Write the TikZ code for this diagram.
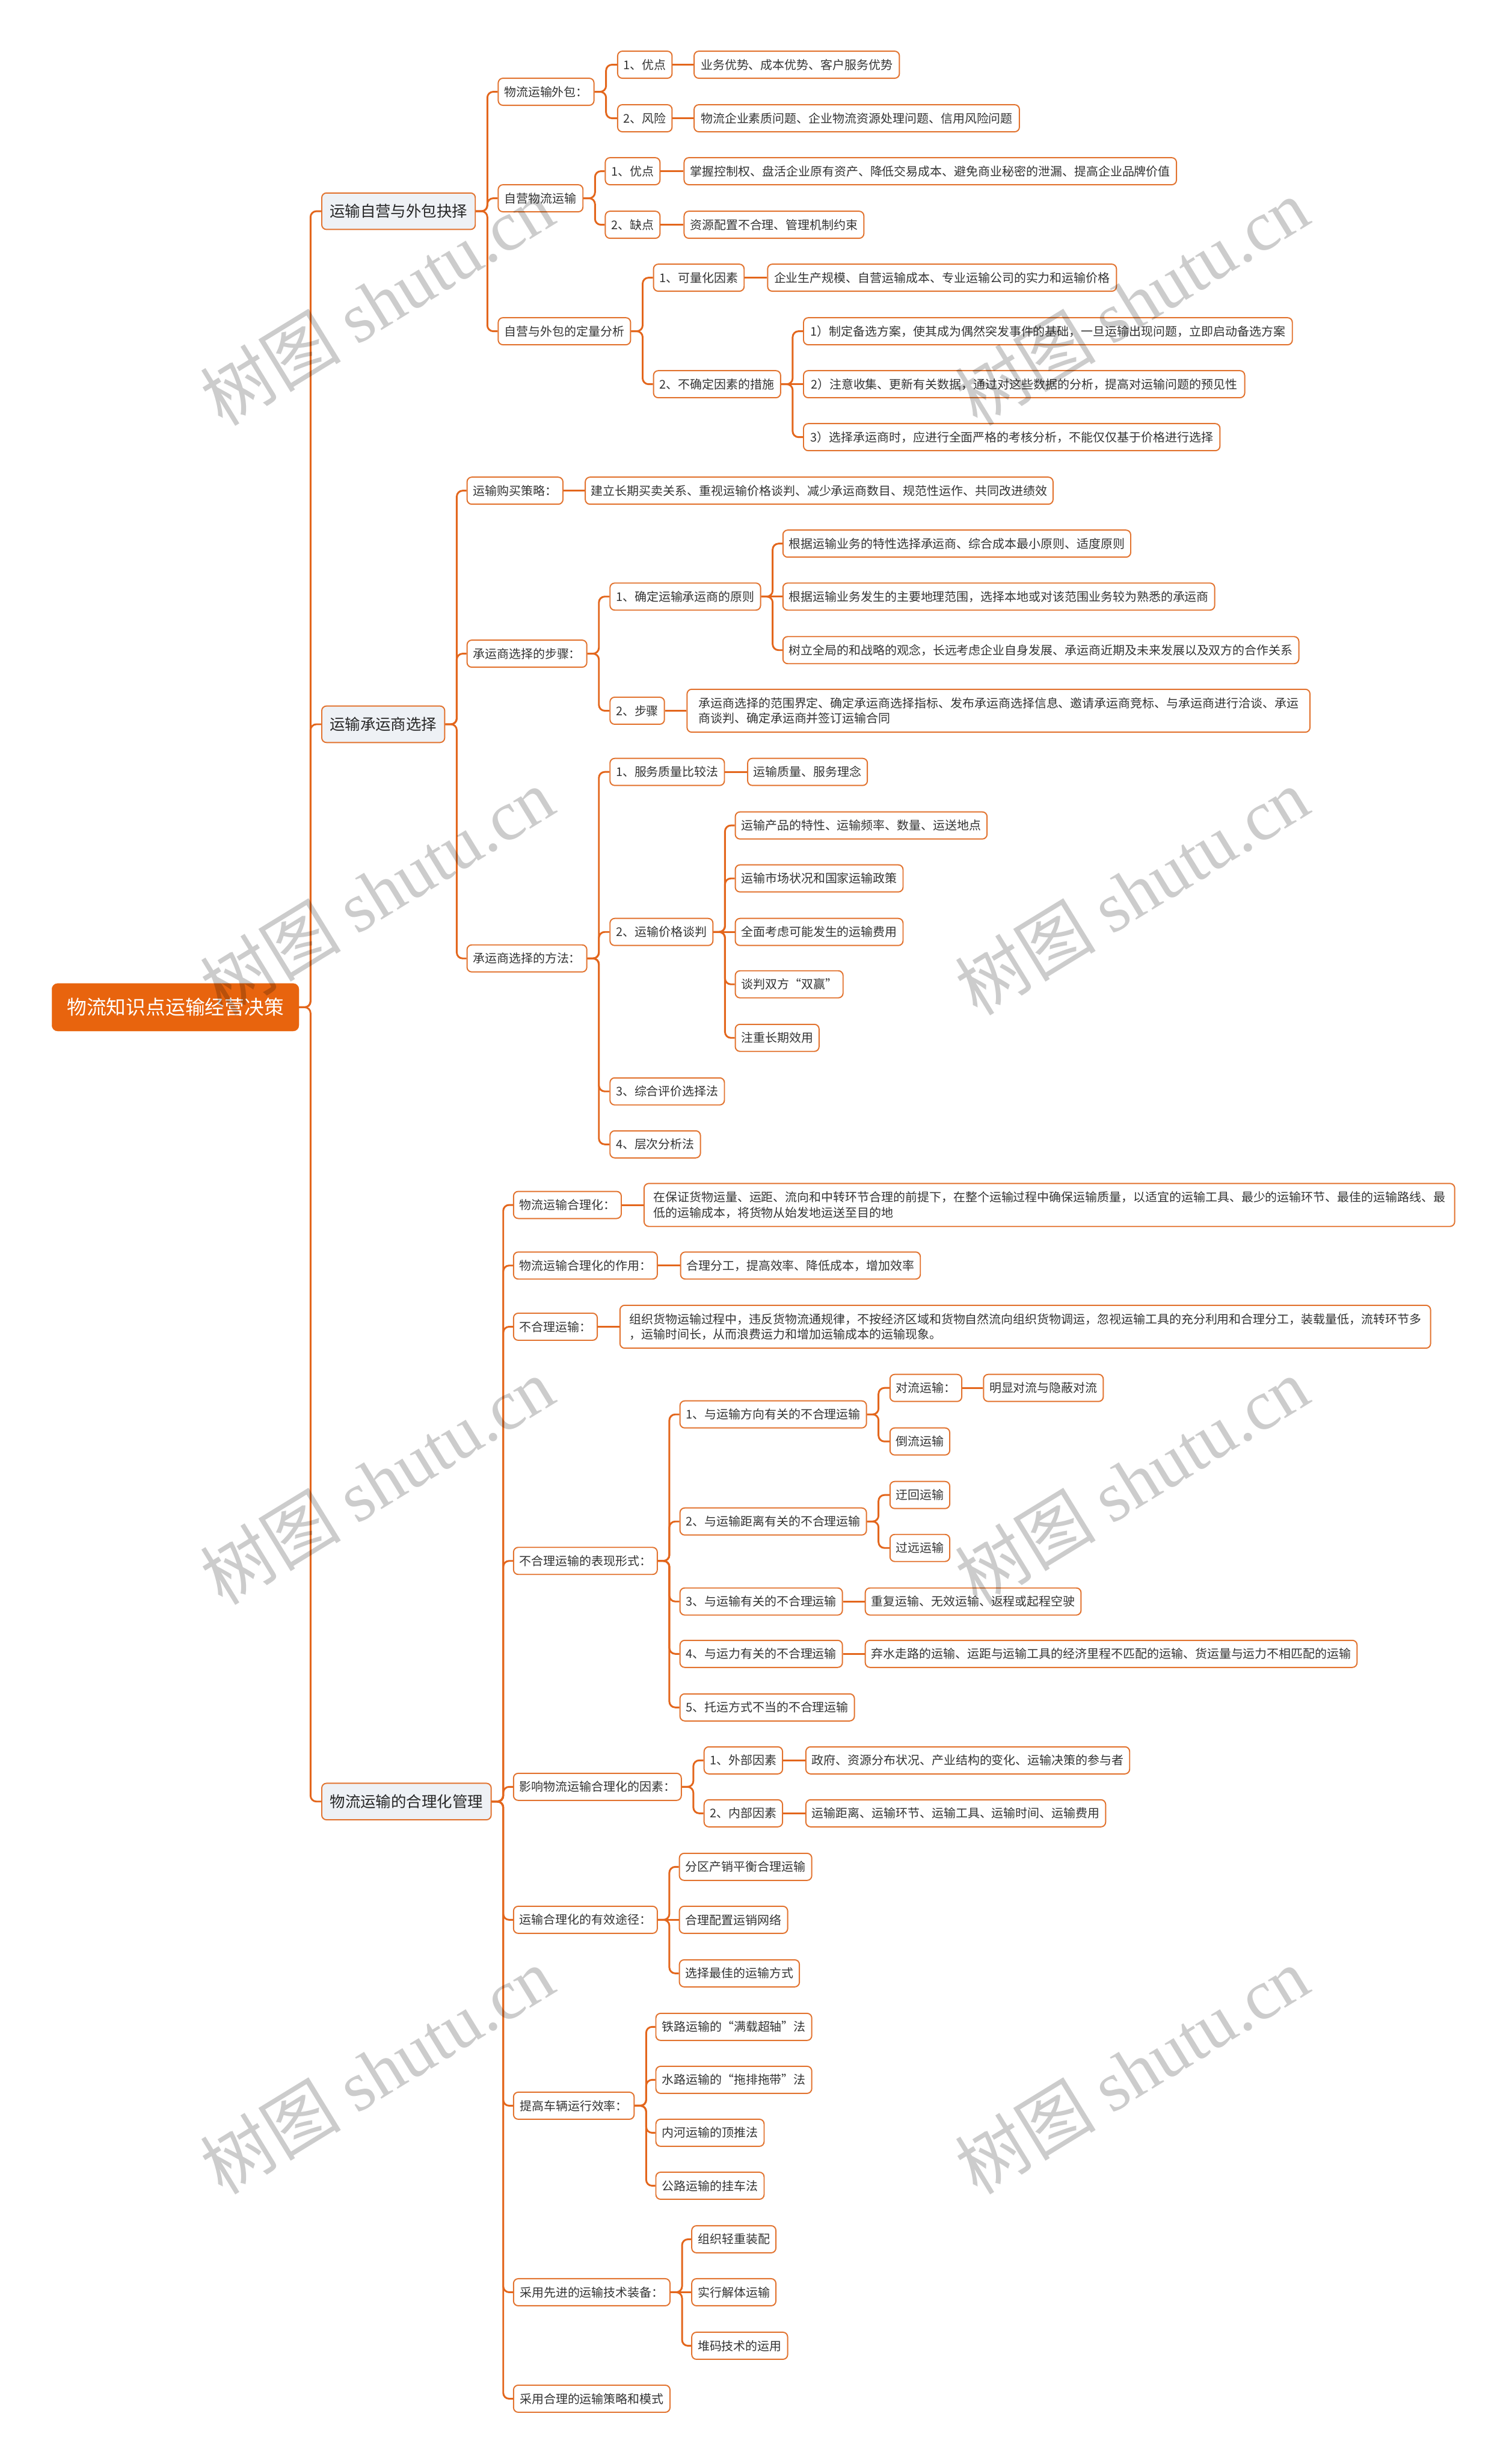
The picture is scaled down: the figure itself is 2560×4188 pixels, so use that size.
\documentclass[tikz,border=0pt]{standalone}
\usepackage{fontspec}
\setmainfont{Noto Sans CJK SC}
\newfontfamily\wmlatin{Liberation Serif}
\definecolor{org}{HTML}{E3661C}
\definecolor{rootc}{HTML}{E8640E}
\definecolor{bord}{HTML}{E2732F}
\definecolor{lonefill}{HTML}{EEF1F5}
\definecolor{txt}{HTML}{333333}
\tikzset{
 base/.style={draw=bord, line width=2pt, rounded corners=8pt, fill=white, text=txt, anchor=west,
   inner xsep=10pt, inner ysep=3pt, minimum height=46pt, font=\fontsize{20.4}{26}\selectfont},
 leaf/.style={base},
 two/.style={base, minimum height=73pt, align=left},
 lone/.style={base, fill=lonefill, text=black!85, minimum height=62pt, inner xsep=13pt, font=\fontsize{26}{32}\selectfont},
 rootn/.style={draw=rootc, fill=rootc, text=white, rounded corners=10pt, anchor=west,
   minimum height=81pt, inner xsep=20pt, font=\fontsize{33.5}{40}\selectfont},
 w/.style={minimum width=#1pt},
 conn/.style={draw=org, line width=3pt, rounded corners=10pt},
 wmk/.style={text=black, text opacity=0.2, rotate=31.5, font=\fontsize{120}{130}\selectfont, inner sep=0pt}
}
\newcommand\fk[2]{\draw[conn] (#1.east) -- ++(19.5,0) |- (#2.west);}
\newcommand\ch[2]{\draw[conn] (#1.east) -- (#2.west);}
\begin{document}
\begin{tikzpicture}[x=1pt,y=-1pt]
\fill[white] (0,0) rectangle (2560,4188);
\useasboundingbox (0,0) rectangle (2560,4188);

% root
\node[rootn, w=420] (R) at (88,1712) {物流知识点运输经营决策};

% ---------- group A
\node[lone, w=261] (A) at (546,359) {运输自营与外包抉择};
\node[leaf, w=162] (A1) at (846,156) {物流运输外包：};
\node[leaf, w=92] (A1a) at (1049,110) {1、优点};
\node[leaf, w=349] (A1a1) at (1179,110) {业务优势、成本优势、客户服务优势};
\node[leaf, w=92] (A1b) at (1049,201) {2、风险};
\node[leaf, w=553] (A1b1) at (1179,201) {物流企业素质问题、企业物流资源处理问题、信用风险问题};
\node[leaf, w=144] (A2) at (846,337) {自营物流运输};
\node[leaf, w=93] (A2a) at (1028,291) {1、优点};
\node[leaf, w=837] (A2a1) at (1162,291) {掌握控制权、盘活企业原有资产、降低交易成本、避免商业秘密的泄漏、提高企业品牌价值};
\node[leaf, w=93] (A2b) at (1028,382) {2、缺点};
\node[leaf, w=304] (A2b1) at (1162,382) {资源配置不合理、管理机制约束};
\node[leaf, w=225] (A3) at (846,563) {自营与外包的定量分析};
\node[leaf, w=154] (A3a) at (1110,472) {1、可量化因素};
\node[leaf, w=593] (A3a1) at (1304,472) {企业生产规模、自营运输成本、专业运输公司的实力和运输价格};
\node[leaf, w=216] (A3b) at (1110,653) {2、不确定因素的措施};
\node[leaf, w=831] (A3b1) at (1365,563) {1）制定备选方案，使其成为偶然突发事件的基础，一旦运输出现问题，立即启动备选方案};
\node[leaf, w=750] (A3b2) at (1365,653) {2）注意收集、更新有关数据，通过对这些数据的分析，提高对运输问题的预见性};
\node[leaf, w=708] (A3b3) at (1365,743) {3）选择承运商时，应进行全面严格的考核分析，不能仅仅基于价格进行选择};

% ---------- group B
\node[lone, w=209] (B) at (546,1231) {运输承运商选择};
\node[leaf, w=163] (B1) at (793,834) {运输购买策略：};
\node[leaf, w=795] (B1a) at (994,834) {建立长期买卖关系、重视运输价格谈判、减少承运商数目、规范性运作、共同改进绩效};
\node[leaf, w=203] (B2) at (793,1111) {承运商选择的步骤：};
\node[leaf, w=256] (B2a) at (1036,1014) {1、确定运输承运商的原则};
\node[leaf, w=591] (B2a1) at (1330,924) {根据运输业务的特性选择承运商、综合成本最小原则、适度原则};
\node[leaf, w=734] (B2a2) at (1330,1014) {根据运输业务发生的主要地理范围，选择本地或对该范围业务较为熟悉的承运商};
\node[leaf, w=877] (B2a3) at (1330,1105) {树立全局的和战略的观念，长远考虑企业自身发展、承运商近期及未来发展以及双方的合作关系};
\node[leaf, w=92] (B2b) at (1036,1208) {2、步骤};
\node[two, w=1059] (B2b1) at (1167,1208) {承运商选择的范围界定、确定承运商选择指标、发布承运商选择信息、邀请承运商竞标、与承运商进行洽谈、承运\\商谈判、确定承运商并签订运输合同};
\node[leaf, w=203] (B3) at (793,1629) {承运商选择的方法：};
\node[leaf, w=194] (B3a) at (1036,1312) {1、服务质量比较法};
\node[leaf, w=202] (B3a1) at (1270,1312) {运输质量、服务理念};
\node[leaf, w=175] (B3b) at (1036,1584) {2、运输价格谈判};
\node[leaf, w=427] (B3b1) at (1249,1403) {运输产品的特性、运输频率、数量、运送地点};
\node[leaf, w=284] (B3b2) at (1249,1493) {运输市场状况和国家运输政策};
\node[leaf, w=284] (B3b3) at (1249,1584) {全面考虑可能发生的运输费用};
\node[leaf, w=182] (B3b4) at (1249,1673) {谈判双方“双赢”};
\node[leaf, w=141] (B3b5) at (1249,1764) {注重长期效用};
\node[leaf, w=194] (B3c) at (1036,1855) {3、综合评价选择法};
\node[leaf, w=152] (B3d) at (1036,1945) {4、层次分析法};

% ---------- group C
\node[lone, w=288] (C) at (546,3062) {物流运输的合理化管理};
\node[leaf, w=183] (C1) at (872,2048) {物流运输合理化：};
\node[two, w=1378] (C1a) at (1094,2048) {在保证货物运量、运距、流向和中转环节合理的前提下，在整个运输过程中确保运输质量，以适宜的运输工具、最少的运输环节、最佳的运输路线、最\\低的运输成本，将货物从始发地运送至目的地};
\node[leaf, w=244] (C2) at (872,2151) {物流运输合理化的作用：};
\node[leaf, w=405] (C2a) at (1156,2151) {合理分工，提高效率、降低成本，增加效率};
\node[leaf, w=141] (C3) at (872,2255) {不合理运输：};
\node[two, w=1378] (C3a) at (1053,2255) {组织货物运输过程中，违反货物流通规律，不按经济区域和货物自然流向组织货物调运，忽视运输工具的充分利用和合理分工，装载量低，流转环节多\\，运输时间长，从而浪费运力和增加运输成本的运输现象。};
\node[leaf, w=244] (C4) at (872,2653) {不合理运输的表现形式：};
\node[leaf, w=317] (C4a) at (1155,2404) {1、与运输方向有关的不合理运输};
\node[leaf, w=121] (C4a1) at (1512,2359) {对流运输：};
\node[leaf, w=202] (C4a1a) at (1671,2359) {明显对流与隐蔽对流};
\node[leaf, w=99] (C4a2) at (1512,2450) {倒流运输};
\node[leaf, w=317] (C4b) at (1155,2586) {2、与运输距离有关的不合理运输};
\node[leaf, w=99] (C4b1) at (1512,2541) {迂回运输};
\node[leaf, w=99] (C4b2) at (1512,2631) {过远运输};
\node[leaf, w=275] (C4c) at (1155,2722) {3、与运输有关的不合理运输};
\node[leaf, w=365] (C4c1) at (1470,2722) {重复运输、无效运输、返程或起程空驶};
\node[leaf, w=275] (C4d) at (1155,2811) {4、与运力有关的不合理运输};
\node[leaf, w=836] (C4d1) at (1470,2811) {弃水走路的运输、运距与运输工具的经济里程不匹配的运输、货运量与运力不相匹配的运输};
\node[leaf, w=295] (C4e) at (1155,2902) {5、托运方式不当的不合理运输};
\node[leaf, w=285] (C5) at (872,3037) {影响物流运输合理化的因素：};
\node[leaf, w=133] (C5a) at (1196,2992) {1、外部因素};
\node[leaf, w=549] (C5a1) at (1369,2992) {政府、资源分布状况、产业结构的变化、运输决策的参与者};
\node[leaf, w=133] (C5b) at (1196,3082) {2、内部因素};
\node[leaf, w=508] (C5b1) at (1369,3082) {运输距离、运输环节、运输工具、运输时间、运输费用};
\node[leaf, w=243] (C6) at (872,3263) {运输合理化的有效途径：};
\node[leaf, w=225] (C6a) at (1154,3173) {分区产销平衡合理运输};
\node[leaf, w=184] (C6b) at (1154,3263) {合理配置运销网络};
\node[leaf, w=204] (C6c) at (1154,3354) {选择最佳的运输方式};
\node[leaf, w=205] (C7) at (872,3579) {提高车辆运行效率：};
\node[leaf, w=265] (C7a) at (1114,3445) {铁路运输的“满载超轴”法};
\node[leaf, w=265] (C7b) at (1114,3535) {水路运输的“拖排拖带”法};
\node[leaf, w=184] (C7c) at (1114,3625) {内河运输的顶推法};
\node[leaf, w=184] (C7d) at (1114,3715) {公路运输的挂车法};
\node[leaf, w=266] (C8) at (872,3896) {采用先进的运输技术装备：};
\node[leaf, w=143] (C8a) at (1175,3806) {组织轻重装配};
\node[leaf, w=143] (C8b) at (1175,3896) {实行解体运输};
\node[leaf, w=163] (C8c) at (1175,3987) {堆码技术的运用};
\node[leaf, w=266] (C9) at (872,4077) {采用合理的运输策略和模式};

% ---------- connectors
\fk{R}{A}\fk{R}{B}\fk{R}{C}
\fk{A}{A1}\fk{A}{A2}\fk{A}{A3}
\fk{A1}{A1a}\fk{A1}{A1b}\ch{A1a}{A1a1}\ch{A1b}{A1b1}
\fk{A2}{A2a}\fk{A2}{A2b}\ch{A2a}{A2a1}\ch{A2b}{A2b1}
\fk{A3}{A3a}\fk{A3}{A3b}\ch{A3a}{A3a1}
\fk{A3b}{A3b1}\ch{A3b}{A3b2}\fk{A3b}{A3b3}

\fk{B}{B1}\fk{B}{B2}\fk{B}{B3}
\ch{B1}{B1a}
\fk{B2}{B2a}\fk{B2}{B2b}
\fk{B2a}{B2a1}\ch{B2a}{B2a2}\fk{B2a}{B2a3}
\ch{B2b}{B2b1}
\fk{B3}{B3a}\fk{B3}{B3b}\fk{B3}{B3c}\fk{B3}{B3d}
\ch{B3a}{B3a1}
\fk{B3b}{B3b1}\fk{B3b}{B3b2}\ch{B3b}{B3b3}\fk{B3b}{B3b4}\fk{B3b}{B3b5}

\fk{C}{C1}\fk{C}{C2}\fk{C}{C3}\fk{C}{C4}\fk{C}{C5}\fk{C}{C6}\fk{C}{C7}\fk{C}{C8}\fk{C}{C9}
\ch{C1}{C1a}\ch{C2}{C2a}\ch{C3}{C3a}
\fk{C4}{C4a}\fk{C4}{C4b}\fk{C4}{C4c}\fk{C4}{C4d}\fk{C4}{C4e}
\fk{C4a}{C4a1}\fk{C4a}{C4a2}\ch{C4a1}{C4a1a}
\fk{C4b}{C4b1}\fk{C4b}{C4b2}
\ch{C4c}{C4c1}\ch{C4d}{C4d1}
\fk{C5}{C5a}\fk{C5}{C5b}\ch{C5a}{C5a1}\ch{C5b}{C5b1}
\fk{C6}{C6a}\ch{C6}{C6b}\fk{C6}{C6c}
\fk{C7}{C7a}\fk{C7}{C7b}\fk{C7}{C7c}\fk{C7}{C7d}
\fk{C8}{C8a}\ch{C8}{C8b}\fk{C8}{C8c}

% ---------- watermarks
\node[wmk] (wm1) at (641,513) {树图 {\wmlatin shutu.cn}};
\node[wmk] (wm2) at (1924,513) {树图 {\wmlatin shutu.cn}};
\node[wmk] (wm3) at (641,1515) {树图 {\wmlatin shutu.cn}};
\node[wmk] (wm4) at (1924,1515) {树图 {\wmlatin shutu.cn}};
\node[wmk] (wm5) at (641,2517) {树图 {\wmlatin shutu.cn}};
\node[wmk] (wm6) at (1924,2517) {树图 {\wmlatin shutu.cn}};
\node[wmk] (wm7) at (641,3519) {树图 {\wmlatin shutu.cn}};
\node[wmk] (wm8) at (1924,3519) {树图 {\wmlatin shutu.cn}};
\end{tikzpicture}
\end{document}
